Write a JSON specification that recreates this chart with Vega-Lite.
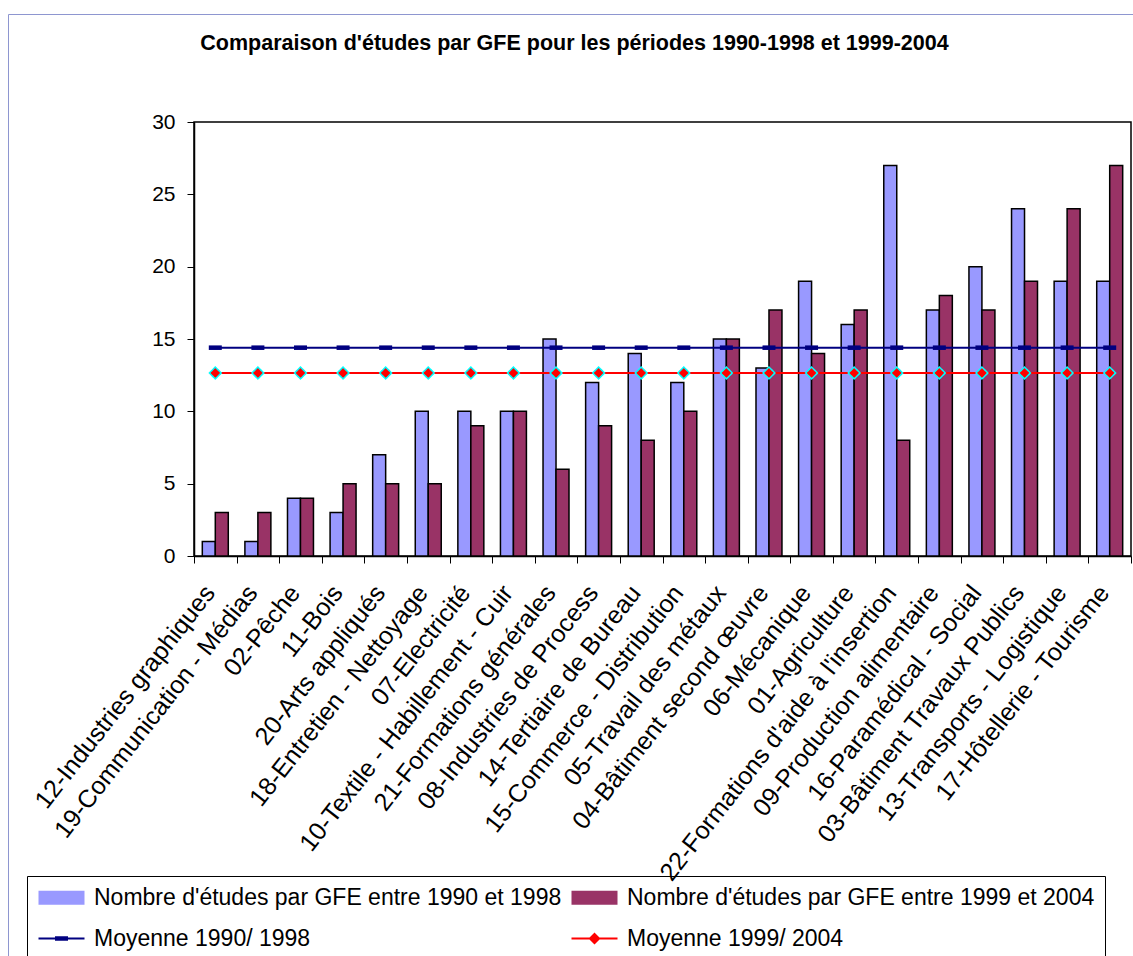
{
  "$schema": "https://vega.github.io/schema/vega-lite/v6.json",
  "width": 937,
  "height": 434,
  "autosize": {"type": "none"},
  "padding": {"left": 194, "top": 122, "right": 2, "bottom": 400},
  "background": "white",
  "config": {
    "font": "Liberation Sans",
    "view": {"stroke": "black", "strokeWidth": 1.5}
  },
  "title": {
    "text": "Comparaison d'études par GFE pour les périodes 1990-1998 et 1999-2004",
    "font": "Liberation Sans",
    "fontSize": 21.5,
    "fontWeight": "bold",
    "color": "black",
    "anchor": "middle",
    "frame": "group",
    "dx": -88,
    "baseline": "alphabetic",
    "offset": -58
  },
  "datasets": {
    "barres": [
      {"categorie": "12-Industries graphiques", "serie": "Nombre d'études par GFE entre 1990 et 1998", "valeur": 1},
      {"categorie": "12-Industries graphiques", "serie": "Nombre d'études par GFE entre 1999 et 2004", "valeur": 3},
      {"categorie": "19-Communication - Médias", "serie": "Nombre d'études par GFE entre 1990 et 1998", "valeur": 1},
      {"categorie": "19-Communication - Médias", "serie": "Nombre d'études par GFE entre 1999 et 2004", "valeur": 3},
      {"categorie": "02-Pêche", "serie": "Nombre d'études par GFE entre 1990 et 1998", "valeur": 4},
      {"categorie": "02-Pêche", "serie": "Nombre d'études par GFE entre 1999 et 2004", "valeur": 4},
      {"categorie": "11-Bois", "serie": "Nombre d'études par GFE entre 1990 et 1998", "valeur": 3},
      {"categorie": "11-Bois", "serie": "Nombre d'études par GFE entre 1999 et 2004", "valeur": 5},
      {"categorie": "20-Arts appliqués", "serie": "Nombre d'études par GFE entre 1990 et 1998", "valeur": 7},
      {"categorie": "20-Arts appliqués", "serie": "Nombre d'études par GFE entre 1999 et 2004", "valeur": 5},
      {"categorie": "18-Entretien - Nettoyage", "serie": "Nombre d'études par GFE entre 1990 et 1998", "valeur": 10},
      {"categorie": "18-Entretien - Nettoyage", "serie": "Nombre d'études par GFE entre 1999 et 2004", "valeur": 5},
      {"categorie": "07-Electricité", "serie": "Nombre d'études par GFE entre 1990 et 1998", "valeur": 10},
      {"categorie": "07-Electricité", "serie": "Nombre d'études par GFE entre 1999 et 2004", "valeur": 9},
      {"categorie": "10-Textile - Habillement - Cuir", "serie": "Nombre d'études par GFE entre 1990 et 1998", "valeur": 10},
      {"categorie": "10-Textile - Habillement - Cuir", "serie": "Nombre d'études par GFE entre 1999 et 2004", "valeur": 10},
      {"categorie": "21-Formations générales", "serie": "Nombre d'études par GFE entre 1990 et 1998", "valeur": 15},
      {"categorie": "21-Formations générales", "serie": "Nombre d'études par GFE entre 1999 et 2004", "valeur": 6},
      {"categorie": "08-Industries de Process", "serie": "Nombre d'études par GFE entre 1990 et 1998", "valeur": 12},
      {"categorie": "08-Industries de Process", "serie": "Nombre d'études par GFE entre 1999 et 2004", "valeur": 9},
      {"categorie": "14-Tertiaire de Bureau", "serie": "Nombre d'études par GFE entre 1990 et 1998", "valeur": 14},
      {"categorie": "14-Tertiaire de Bureau", "serie": "Nombre d'études par GFE entre 1999 et 2004", "valeur": 8},
      {"categorie": "15-Commerce - Distribution", "serie": "Nombre d'études par GFE entre 1990 et 1998", "valeur": 12},
      {"categorie": "15-Commerce - Distribution", "serie": "Nombre d'études par GFE entre 1999 et 2004", "valeur": 10},
      {"categorie": "05-Travail des métaux", "serie": "Nombre d'études par GFE entre 1990 et 1998", "valeur": 15},
      {"categorie": "05-Travail des métaux", "serie": "Nombre d'études par GFE entre 1999 et 2004", "valeur": 15},
      {"categorie": "04-Bâtiment second œuvre", "serie": "Nombre d'études par GFE entre 1990 et 1998", "valeur": 13},
      {"categorie": "04-Bâtiment second œuvre", "serie": "Nombre d'études par GFE entre 1999 et 2004", "valeur": 17},
      {"categorie": "06-Mécanique", "serie": "Nombre d'études par GFE entre 1990 et 1998", "valeur": 19},
      {"categorie": "06-Mécanique", "serie": "Nombre d'études par GFE entre 1999 et 2004", "valeur": 14},
      {"categorie": "01-Agriculture", "serie": "Nombre d'études par GFE entre 1990 et 1998", "valeur": 16},
      {"categorie": "01-Agriculture", "serie": "Nombre d'études par GFE entre 1999 et 2004", "valeur": 17},
      {"categorie": "22-Formations d'aide à l'insertion", "serie": "Nombre d'études par GFE entre 1990 et 1998", "valeur": 27},
      {"categorie": "22-Formations d'aide à l'insertion", "serie": "Nombre d'études par GFE entre 1999 et 2004", "valeur": 8},
      {"categorie": "09-Production alimentaire", "serie": "Nombre d'études par GFE entre 1990 et 1998", "valeur": 17},
      {"categorie": "09-Production alimentaire", "serie": "Nombre d'études par GFE entre 1999 et 2004", "valeur": 18},
      {"categorie": "16-Paramédical - Social", "serie": "Nombre d'études par GFE entre 1990 et 1998", "valeur": 20},
      {"categorie": "16-Paramédical - Social", "serie": "Nombre d'études par GFE entre 1999 et 2004", "valeur": 17},
      {"categorie": "03-Bâtiment Travaux Publics", "serie": "Nombre d'études par GFE entre 1990 et 1998", "valeur": 24},
      {"categorie": "03-Bâtiment Travaux Publics", "serie": "Nombre d'études par GFE entre 1999 et 2004", "valeur": 19},
      {"categorie": "13-Transports - Logistique", "serie": "Nombre d'études par GFE entre 1990 et 1998", "valeur": 19},
      {"categorie": "13-Transports - Logistique", "serie": "Nombre d'études par GFE entre 1999 et 2004", "valeur": 24},
      {"categorie": "17-Hôtellerie - Tourisme", "serie": "Nombre d'études par GFE entre 1990 et 1998", "valeur": 19},
      {"categorie": "17-Hôtellerie - Tourisme", "serie": "Nombre d'études par GFE entre 1999 et 2004", "valeur": 27}
    ],
    "moyennes": [
      {"categorie": "12-Industries graphiques", "serie": "Moyenne 1990/ 1998", "valeur": 14.4},
      {"categorie": "19-Communication - Médias", "serie": "Moyenne 1990/ 1998", "valeur": 14.4},
      {"categorie": "02-Pêche", "serie": "Moyenne 1990/ 1998", "valeur": 14.4},
      {"categorie": "11-Bois", "serie": "Moyenne 1990/ 1998", "valeur": 14.4},
      {"categorie": "20-Arts appliqués", "serie": "Moyenne 1990/ 1998", "valeur": 14.4},
      {"categorie": "18-Entretien - Nettoyage", "serie": "Moyenne 1990/ 1998", "valeur": 14.4},
      {"categorie": "07-Electricité", "serie": "Moyenne 1990/ 1998", "valeur": 14.4},
      {"categorie": "10-Textile - Habillement - Cuir", "serie": "Moyenne 1990/ 1998", "valeur": 14.4},
      {"categorie": "21-Formations générales", "serie": "Moyenne 1990/ 1998", "valeur": 14.4},
      {"categorie": "08-Industries de Process", "serie": "Moyenne 1990/ 1998", "valeur": 14.4},
      {"categorie": "14-Tertiaire de Bureau", "serie": "Moyenne 1990/ 1998", "valeur": 14.4},
      {"categorie": "15-Commerce - Distribution", "serie": "Moyenne 1990/ 1998", "valeur": 14.4},
      {"categorie": "05-Travail des métaux", "serie": "Moyenne 1990/ 1998", "valeur": 14.4},
      {"categorie": "04-Bâtiment second œuvre", "serie": "Moyenne 1990/ 1998", "valeur": 14.4},
      {"categorie": "06-Mécanique", "serie": "Moyenne 1990/ 1998", "valeur": 14.4},
      {"categorie": "01-Agriculture", "serie": "Moyenne 1990/ 1998", "valeur": 14.4},
      {"categorie": "22-Formations d'aide à l'insertion", "serie": "Moyenne 1990/ 1998", "valeur": 14.4},
      {"categorie": "09-Production alimentaire", "serie": "Moyenne 1990/ 1998", "valeur": 14.4},
      {"categorie": "16-Paramédical - Social", "serie": "Moyenne 1990/ 1998", "valeur": 14.4},
      {"categorie": "03-Bâtiment Travaux Publics", "serie": "Moyenne 1990/ 1998", "valeur": 14.4},
      {"categorie": "13-Transports - Logistique", "serie": "Moyenne 1990/ 1998", "valeur": 14.4},
      {"categorie": "17-Hôtellerie - Tourisme", "serie": "Moyenne 1990/ 1998", "valeur": 14.4},
      {"categorie": "12-Industries graphiques", "serie": "Moyenne 1999/ 2004", "valeur": 12.65},
      {"categorie": "19-Communication - Médias", "serie": "Moyenne 1999/ 2004", "valeur": 12.65},
      {"categorie": "02-Pêche", "serie": "Moyenne 1999/ 2004", "valeur": 12.65},
      {"categorie": "11-Bois", "serie": "Moyenne 1999/ 2004", "valeur": 12.65},
      {"categorie": "20-Arts appliqués", "serie": "Moyenne 1999/ 2004", "valeur": 12.65},
      {"categorie": "18-Entretien - Nettoyage", "serie": "Moyenne 1999/ 2004", "valeur": 12.65},
      {"categorie": "07-Electricité", "serie": "Moyenne 1999/ 2004", "valeur": 12.65},
      {"categorie": "10-Textile - Habillement - Cuir", "serie": "Moyenne 1999/ 2004", "valeur": 12.65},
      {"categorie": "21-Formations générales", "serie": "Moyenne 1999/ 2004", "valeur": 12.65},
      {"categorie": "08-Industries de Process", "serie": "Moyenne 1999/ 2004", "valeur": 12.65},
      {"categorie": "14-Tertiaire de Bureau", "serie": "Moyenne 1999/ 2004", "valeur": 12.65},
      {"categorie": "15-Commerce - Distribution", "serie": "Moyenne 1999/ 2004", "valeur": 12.65},
      {"categorie": "05-Travail des métaux", "serie": "Moyenne 1999/ 2004", "valeur": 12.65},
      {"categorie": "04-Bâtiment second œuvre", "serie": "Moyenne 1999/ 2004", "valeur": 12.65},
      {"categorie": "06-Mécanique", "serie": "Moyenne 1999/ 2004", "valeur": 12.65},
      {"categorie": "01-Agriculture", "serie": "Moyenne 1999/ 2004", "valeur": 12.65},
      {"categorie": "22-Formations d'aide à l'insertion", "serie": "Moyenne 1999/ 2004", "valeur": 12.65},
      {"categorie": "09-Production alimentaire", "serie": "Moyenne 1999/ 2004", "valeur": 12.65},
      {"categorie": "16-Paramédical - Social", "serie": "Moyenne 1999/ 2004", "valeur": 12.65},
      {"categorie": "03-Bâtiment Travaux Publics", "serie": "Moyenne 1999/ 2004", "valeur": 12.65},
      {"categorie": "13-Transports - Logistique", "serie": "Moyenne 1999/ 2004", "valeur": 12.65},
      {"categorie": "17-Hôtellerie - Tourisme", "serie": "Moyenne 1999/ 2004", "valeur": 12.65}
    ]
  },
  "layer": [
    {
      "data": {"name": "moyennes"},
      "mark": {"type": "point", "filled": true, "opacity": 0, "size": 4},
      "encoding": {
        "x": {"field": "categorie", "type": "nominal", "sort": null},
        "y": {"field": "valeur", "type": "quantitative"},
        "color": {
          "field": "serie", "type": "nominal",
          "scale": {
            "domain": ["Nombre d'études par GFE entre 1990 et 1998", "Nombre d'études par GFE entre 1999 et 2004", "Moyenne 1990/ 1998", "Moyenne 1999/ 2004"],
            "range": ["#9999FF", "#993366", "#000080", "#FF0000"]
          },
          "legend": {
            "orient": "none", "legendX": -167, "legendY": 754, "columns": 2, "direction": "horizontal",
            "title": null, "strokeColor": "black", "padding": 10, "fillColor": "transparent",
            "labelFont": "Liberation Sans", "labelFontSize": 23, "labelColor": "black", "labelLimit": 0,
            "symbolSize": 400, "symbolOffset": 13, "symbolOpacity": 1, "symbolStrokeWidth": 0,
            "rowPadding": 17, "columnPadding": 8, "labelOffset": 21
          }
        },
        "shape": {
          "field": "serie", "type": "nominal",
          "scale": {
            "domain": ["Nombre d'études par GFE entre 1990 et 1998", "Nombre d'études par GFE entre 1999 et 2004", "Moyenne 1990/ 1998", "Moyenne 1999/ 2004"],
            "range": [
              "M-2.3,-0.7L2.3,-0.7L2.3,0.7L-2.3,0.7Z",
              "M-2.3,-0.7L2.3,-0.7L2.3,0.7L-2.3,0.7Z",
              "M-2.3,-0.1L2.3,-0.1L2.3,0.1L-2.3,0.1Z M-0.65,-0.22L0.65,-0.22L0.65,0.22L-0.65,0.22Z",
              "M-2.3,-0.1L2.3,-0.1L2.3,0.1L-2.3,0.1Z M0,-0.6L0.6,0L0,0.6L-0.6,0Z"
            ]
          },
          "legend": {
            "orient": "none", "legendX": -167, "legendY": 754, "columns": 2, "direction": "horizontal",
            "title": null, "strokeColor": "black", "padding": 10, "fillColor": "transparent",
            "labelFont": "Liberation Sans", "labelFontSize": 23, "labelColor": "black", "labelLimit": 0,
            "symbolSize": 400, "symbolOffset": 13, "symbolOpacity": 1, "symbolStrokeWidth": 0,
            "rowPadding": 17, "columnPadding": 8, "labelOffset": 21
          }
        }
      }
    },
    {
      "data": {"name": "barres"},
      "mark": {"type": "bar", "stroke": "black", "strokeWidth": 1.5, "opacity": 1},
      "encoding": {
        "x": {
          "field": "categorie", "type": "nominal", "sort": null,
          "scale": {"paddingInner": 0, "paddingOuter": 0},
          "axis": {
            "title": null, "tickBand": "extent", "labelAngle": -52, "labelAlign": "right", "labelBaseline": "middle",
            "labelFont": "Liberation Sans", "labelFontSize": 25, "labelColor": "black", "labelPadding": 25, "labelOffset": -6,
            "labelLimit": 0, "labelOverlap": false, "tickColor": "black", "tickSize": 7, "tickWidth": 1,
            "domainColor": "black", "domainWidth": 1.5, "grid": false
          }
        },
        "xOffset": {"field": "serie", "type": "nominal", "sort": null, "scale": {"paddingInner": 0, "paddingOuter": 0.64}},
        "y": {
          "field": "valeur", "type": "quantitative",
          "scale": {"domain": [0, 30]},
          "axis": {
            "title": null, "values": [0, 5, 10, 15, 20, 25, 30], "labelFont": "Liberation Sans", "labelFontSize": 21,
            "labelColor": "black", "labelPadding": 12, "tickSize": 7, "tickColor": "black", "tickWidth": 1,
            "domainColor": "black", "domainWidth": 1.5, "grid": false, "labelFlush": false
          }
        },
        "color": {"field": "serie", "type": "nominal", "legend": null}
      }
    },
    {
      "data": {"name": "moyennes"},
      "mark": {"type": "line", "strokeWidth": 2},
      "encoding": {
        "x": {"field": "categorie", "type": "nominal", "sort": null},
        "y": {"field": "valeur", "type": "quantitative"},
        "color": {"field": "serie", "type": "nominal", "legend": null}
      }
    },
    {
      "data": {"name": "moyennes"},
      "transform": [{"filter": "datum.serie == 'Moyenne 1990/ 1998'"}],
      "mark": {"type": "point", "shape": "M-1,-0.35L1,-0.35L1,0.35L-1,0.35Z", "size": 169, "filled": true, "fill": "#000080", "strokeWidth": 0, "opacity": 1},
      "encoding": {
        "x": {"field": "categorie", "type": "nominal", "sort": null},
        "y": {"field": "valeur", "type": "quantitative"}
      }
    },
    {
      "data": {"name": "moyennes"},
      "transform": [{"filter": "datum.serie == 'Moyenne 1999/ 2004'"}],
      "mark": {"type": "point", "shape": "diamond", "size": 140, "filled": true, "fill": "#FF0000", "stroke": "#00FFFF", "strokeWidth": 1.5, "opacity": 1},
      "encoding": {
        "x": {"field": "categorie", "type": "nominal", "sort": null},
        "y": {"field": "valeur", "type": "quantitative"},
        "strokeDash": {
          "field": "categorie", "type": "nominal", "sort": null,
          "scale": {"range": [[1, 0]]},
          "legend": {
            "orient": "none", "legendX": -186, "legendY": -108, "title": null, "padding": 700,
            "strokeColor": "#8E96D0", "columns": 22, "direction": "horizontal",
            "labelExpr": "''", "labelFontSize": 1, "symbolSize": 1, "symbolOpacity": 0, "symbolStrokeWidth": 0,
            "rowPadding": 0, "columnPadding": 0, "labelOffset": 0, "symbolOffset": 0
          }
        }
      }
    }
  ]
}
